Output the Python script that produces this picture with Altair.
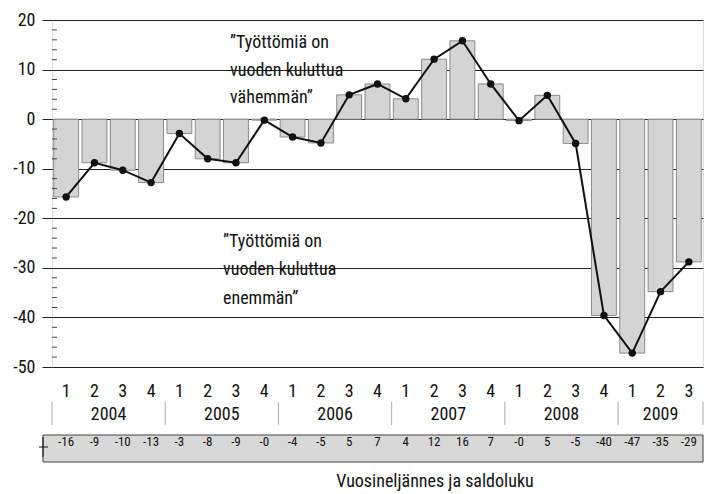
import altair as alt
import pandas as pd

years = ["2004"] * 4 + ["2005"] * 4 + ["2006"] * 4 + ["2007"] * 4 + ["2008"] * 4 + ["2009"] * 3
quarters = ["1", "2", "3", "4"] * 5 + ["1", "2", "3"]
values = [-15.7, -8.8, -10.3, -12.8, -2.9, -8.0, -8.8, -0.2, -3.6, -4.8,
          4.9, 7.1, 4.1, 12.1, 15.8, 7.1, -0.3, 4.8, -4.9, -39.6, -47.2, -34.8, -28.8]
table_labels = ["-16", "-9", "-10", "-13", "-3", "-8", "-9", "-0", "-4", "-5", "5", "7",
                "4", "12", "16", "7", "-0", "5", "-5", "-40", "-47", "-35", "-29"]
y_ticks = [-50, -40, -30, -20, -10, 0, 10, 20]
ann_top = ["\u201dTyöttömiä on", "vuoden kuluttua", "vähemmän\u201d"]
ann_bottom = ["\u201dTyöttömiä on", "vuoden kuluttua", "enemmän\u201d"]
x_title = "Vuosineljännes ja saldoluku"

df = pd.DataFrame({
    "idx": list(range(len(values))),
    "year": years,
    "quarter": quarters,
    "value": values,
    "label": table_labels,
})
minor = pd.DataFrame({"v": [v for v in range(-48, 20, 2) if v % 10 != 0]})
one = pd.DataFrame({"a": [0]})

W, H = 651, 347
FONT = "Roboto Condensed, Roboto, sans-serif"
N = len(values)

xs = alt.Scale(domain=[-0.5, N - 0.5], nice=False, zero=False)
ys = alt.Scale(domain=[-50, 20], nice=False, zero=False)

base = alt.Chart(df)

bars = base.transform_calculate(
    x1="datum.idx - 0.44", x2="datum.idx + 0.44"
).mark_bar(fill="#d4d4d4", stroke="#8a8a8a", strokeWidth=1).encode(
    x=alt.X("x1:Q", scale=xs, axis=None),
    x2="x2:Q",
    y=alt.Y("value:Q", scale=ys, axis=alt.Axis(
        values=y_ticks, grid=True, gridColor="#222", gridWidth=1,
        domain=False, ticks=True, tickSize=10, tickColor="#222",
        labelExpr="datum.value + ''",
        labelFont=FONT, labelFontSize=18, labelColor="#111", labelPadding=7,
        title=None)),
    y2=alt.datum(0),
)

minor_ticks = alt.Chart(minor).mark_rule(color="#444", strokeWidth=1).encode(
    x=alt.value(0), x2=alt.value(5),
    y=alt.Y("v:Q", scale=ys),
)

line = base.mark_line(color="#111", strokeWidth=2).encode(
    x=alt.X("idx:Q", scale=xs), y=alt.Y("value:Q", scale=ys))
points = base.mark_circle(size=55, color="#111", opacity=1).encode(
    x=alt.X("idx:Q", scale=xs), y=alt.Y("value:Q", scale=ys))

q_text = base.mark_text(font=FONT, fontSize=18, color="#111", baseline="middle").encode(
    x=alt.X("idx:Q", scale=xs), y=alt.value(372), text="quarter:N")

year_text = base.transform_aggregate(
    mid="mean(idx)", groupby=["year"]
).mark_text(font=FONT, fontSize=18, color="#111", baseline="middle").encode(
    x=alt.X("mid:Q", scale=xs), y=alt.value(395), text="year:N")

seps = base.transform_aggregate(
    start="min(idx)", groupby=["year"]
).transform_calculate(sx="datum.start - 0.5").mark_rule(color="#aaa", strokeWidth=1).encode(
    x=alt.X("sx:Q", scale=xs), y=alt.value(382), y2=alt.value(405))

sep_end = base.transform_aggregate(
    last="max(idx)"
).transform_calculate(sx="datum.last + 0.5").mark_rule(color="#aaa", strokeWidth=1).encode(
    x=alt.X("sx:Q", scale=xs), y=alt.value(382), y2=alt.value(405))

table_box = alt.Chart(one).mark_rect(fill="#d8d8d8", stroke="#444", strokeWidth=1).encode(
    x=alt.value(-9), x2=alt.value(W), y=alt.value(415), y2=alt.value(442))

table_text = base.mark_text(font=FONT, fontSize=13, color="#111", baseline="middle").encode(
    x=alt.X("idx:Q", scale=xs), y=alt.value(422), text="label:N")

cross_v = alt.Chart(one).mark_rule(color="#111", strokeWidth=1).encode(
    x=alt.value(-9), y=alt.value(417), y2=alt.value(437))
cross_h = alt.Chart(one).mark_rule(color="#111", strokeWidth=1).encode(
    x=alt.value(-13), x2=alt.value(-4), y=alt.value(427))

title_text = alt.Chart(one).mark_text(font=FONT, fontSize=18, color="#111", baseline="middle").encode(
    x=alt.value(383), y=alt.value(462), text=alt.value(x_title))

ann1 = alt.Chart(one).mark_text(font=FONT, fontSize=18, color="#111", align="left",
                                baseline="middle", lineHeight=27.5).encode(
    x=alt.value(178), y=alt.value(23), text=alt.value(ann_top))
ann2 = alt.Chart(one).mark_text(font=FONT, fontSize=18, color="#111", align="left",
                                baseline="middle", lineHeight=28.3).encode(
    x=alt.value(171), y=alt.value(222), text=alt.value(ann_bottom))

chart = alt.layer(
    bars, minor_ticks, line, points, q_text, year_text, seps, sep_end,
    table_box, table_text, cross_v, cross_h, title_text, ann1, ann2,
).properties(
    width=W, height=H,
    autosize=alt.AutoSizeParams(type="none"),
    padding={"left": 44, "top": 12, "right": 1, "bottom": 127},
).configure_view(stroke="#222", strokeWidth=1).configure(background="white")

chart.save("out.html", embed_options={"renderer": "svg", "actions": False})
